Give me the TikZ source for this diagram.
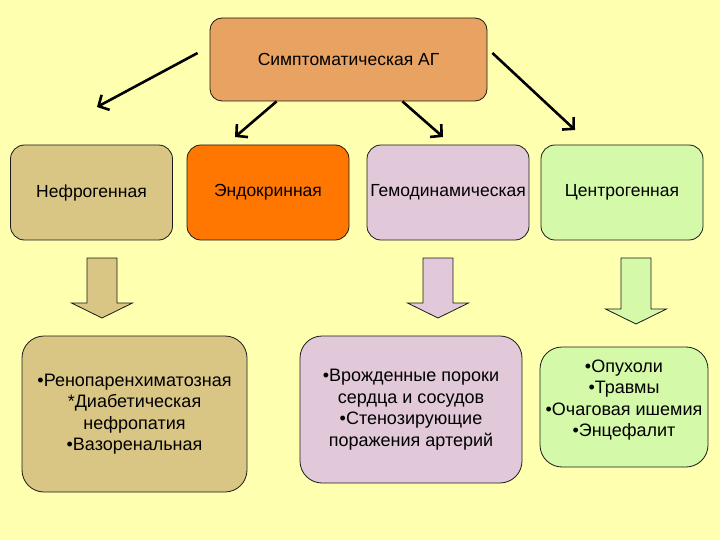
\documentclass[tikz,border=0pt]{standalone}
\usepackage{fontspec}
\setmainfont{Liberation Sans}
\usepackage{xcolor}
\definecolor{cBack}{HTML}{FFFFB0}
\definecolor{cRoot}{HTML}{E8A262}
\definecolor{cNephro}{HTML}{D9C685}
\definecolor{cEndo}{HTML}{FF7700}
\definecolor{cHemo}{HTML}{E2C9DA}
\definecolor{cCentro}{HTML}{D3F9A9}
\definecolor{cLine}{HTML}{1A1A1A}
\usetikzlibrary{arrows.meta}
\tikzset{
  node-root/.style={draw=cLine,line width=0.8pt,rounded corners=12pt,fill=cRoot,
    minimum width=277pt,minimum height=83pt,align=center,
    font=\fontsize{17.5}{21}\selectfont},
  node-kind/.style={draw=cLine,line width=0.8pt,rounded corners=14pt,
    minimum width=162pt,minimum height=95pt,inner sep=1pt,align=center,
    font=\fontsize{17.5}{21}\selectfont},
  node-list/.style={draw=cLine,line width=0.8pt,rounded corners=22pt,
    align=center,font=\fontsize{18}{21.5}\selectfont},
  node-text/.style={align=center,font=\fontsize{18}{21.5}\selectfont},
  arrow/.style={-{Straight Barb[length=8pt,width=17pt]},line width=2.6pt,draw=black},
  block-arrow/.style={draw=cLine,line width=0.8pt,line join=miter},
}

\begin{document}
\begin{tikzpicture}[x=1pt,y=-1pt]
  \fill[cBack] (0,0) rectangle (720,540);
  \useasboundingbox (0,0) rectangle (720,540);
  % верхний уровень
  \node[node-root] (root) at (348.5,59.5) {Симптоматическая АГ};
  % виды
  \node[node-kind,fill=cNephro] (nephro) at (91.5,192.5) {Нефрогенная};
  \node[node-kind,fill=cEndo]   (endo)   at (268,192.5)  {Эндокринная};
  \node[node-kind,fill=cHemo]   (hemo)   at (448,192.5)  {Гемодинамическая};
  \node[node-kind,fill=cCentro] (centro) at (622,192.5)  {Центрогенная};
  % концы стрелок
  \coordinate (e-nephro) at (97,107);
  \coordinate (e-endo)   at (235,137);
  \coordinate (e-hemo)   at (443,137);
  \coordinate (e-centro) at (575,130);
  \draw[arrow] ([shift={(-12,-6.5)}]root.west)  -- (e-nephro);
  \draw[arrow] ([xshift=67pt]root.south west)    -- (e-endo);
  \draw[arrow] ([xshift=-85pt]root.south east)   -- (e-hemo);
  \draw[arrow] ([shift={(5,-6.5)}]root.east)     -- (e-centro);
  % блочные стрелки
  \foreach \cx/\hb/\tp/\col in {102/303/318/cNephro,438/303/318/cHemo,636/309/324/cCentro}
    \draw[block-arrow,fill=\col] (\cx-15,258) -- (\cx+15,258) -- (\cx+15,\hb)
      -- (\cx+30.5,\hb) -- (\cx,\tp) -- (\cx-30.5,\hb) -- (\cx-15,\hb) -- cycle;
  % списки
  \node[node-list,fill=cNephro,minimum width=225pt,minimum height=156pt] (list-nephro) at (134.5,414)
    {•Ренопаренхиматозная\\*Диабетическая\\нефропатия\\•Вазоренальная};
  \node[node-list,fill=cHemo,minimum width=222pt,minimum height=147pt] (list-hemo) at (411,409.5)
    {•Врожденные пороки\\сердца и сосудов\\•Стенозирующие\\поражения артерий};
  \node[node-list,fill=cCentro,minimum width=168pt,minimum height=120pt] (list-centro) at (624,407) {};
  \node[node-text] (txt-centro) at (624,400) {•Опухоли\\•Травмы\\•Очаговая ишемия\\•Энцефалит};
\end{tikzpicture}
\end{document}
